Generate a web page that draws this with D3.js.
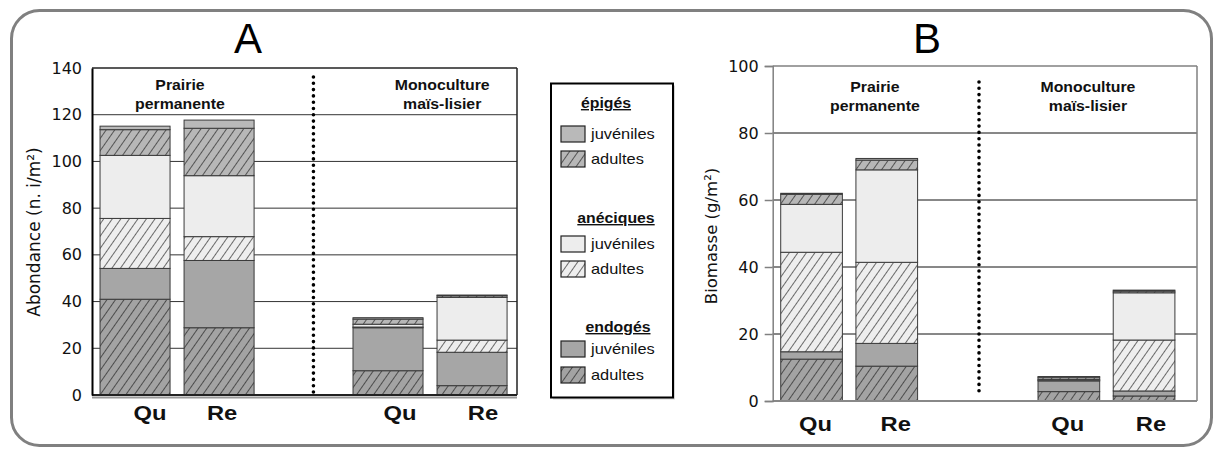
<!DOCTYPE html>
<html>
<head>
<meta charset="utf-8">
<script src="https://cdn.jsdelivr.net/npm/d3@7"></script>
<style>
  body { margin: 0; background: #fff; }
  svg { display: block; }
  .verd { font-family: "DejaVu Sans", sans-serif; }
  .arial { font-family: "Liberation Sans", Arial, sans-serif; }
</style>
</head>
<body>
<svg id="chart" width="1215" height="450"></svg>
<script>
// stack order, bottom to top
var keys = ["endoAd", "endoJuv", "anecAd", "anecJuv", "epiAd", "epiJuv"];
var groupIds = ["PP", "MM"];
var groupLabels = [["Prairie", "permanente"], ["Monoculture", "maïs-lisier"]];
var barGroups = ["PP", "PP", "MM", "MM"];
var barLabels = ["Qu", "Re", "Qu", "Re"];

// A : abondance (n. i/m²), one value per bar
var aEndoAd  = [41.0, 28.8, 10.4, 4.0];
var aEndoJuv = [13.2, 28.8, 18.4, 14.3];
var aAnecAd  = [21.4, 10.2, 0.3, 5.2];
var aAnecJuv = [27.0, 26.1, 1.2, 18.3];
var aEpiAd   = [11.0, 20.3, 2.2, 0.7];
var aEpiJuv  = [1.5, 3.5, 0.6, 0.3];

// B : biomasse (g/m²)
var bEndoAd  = [12.5, 10.4, 2.8, 1.5];
var bEndoJuv = [2.2, 6.8, 3.2, 1.5];
var bAnecAd  = [29.7, 24.2, 0.2, 15.2];
var bAnecJuv = [14.3, 27.6, 0.3, 14.1];
var bEpiAd   = [3.0, 2.9, 0.6, 0.5];
var bEpiJuv  = [0.3, 0.5, 0.2, 0.3];

var aTicks = [0, 20, 40, 60, 80, 100, 120, 140];
var bTicks = [0, 20, 40, 60, 80, 100];

var legendGroups = ["épigés", "anéciques", "endogés"];
var legendItems = ["juvéniles", "adultes"];

var svg = d3.select("#chart");
var STRETCH = 1.13;

function stretch(sel) {
  sel.each(function () {
    var w = this.getComputedTextLength();
    d3.select(this).attr("textLength", w * STRETCH).attr("lengthAdjust", "spacingAndGlyphs");
  });
}

/* hatch patterns */
var defs = svg.append("defs");
function hatch(id, base) {
  var p = defs.append("pattern").attr("id", id)
    .attr("patternUnits", "userSpaceOnUse")
    .attr("width", 7).attr("height", 7)
    .attr("patternTransform", "rotate(35)");
  p.append("rect").attr("width", 7).attr("height", 7).attr("fill", base);
  p.append("line").attr("x1", 0).attr("y1", 0).attr("x2", 0).attr("y2", 7)
    .attr("stroke", "#111").attr("stroke-width", 1.2);
}
hatch("h-endo", "#a3a3a3");
hatch("h-anec", "#eeeeee");
hatch("h-epi", "#b7b7b7");

var fills = {
  endoAd: "url(#h-endo)", endoJuv: "#a6a6a6",
  anecAd: "url(#h-anec)", anecJuv: "#ededed",
  epiAd: "url(#h-epi)", epiJuv: "#b9b9b9"
};

/* outer frame */
svg.append("rect")
  .attr("x", 11.5).attr("y", 10.5).attr("width", 1200).attr("height", 435)
  .attr("rx", 28).attr("fill", "none").attr("stroke", "#808080").attr("stroke-width", 3);

function rows(cols) {
  return barLabels.map(function (lab, i) {
    var r = { group: barGroups[i], label: lab };
    keys.forEach(function (k, j) { r[k] = cols[j][i]; });
    return r;
  });
}

var panels = [
  {
    title: "A", titleX: 248, ytitle: "Abondance (n. i/m²)", ytitleX: 40, ytitleY: 232, ytitleSize: 17,
    left: 92, right: 517, top: 68, bottom: 395, max: 140, ticks: aTicks,
    data: rows([aEndoAd, aEndoJuv, aAnecAd, aAnecJuv, aEpiAd, aEpiJuv]),
    gPadIn: 0.391, gPadOut: 0.0355, gAlign: 0.447, bPad: 0.1667,
    divFrac: 0.6, divTop: 77, divBottom: 395,
    labelDx: [15, 3, 12, 11], labelY: 420,
    groupFrac: [0.207, 0.824], groupY: [90, 109],
    axisColor: "#000", axisWidth: 2, frameColor: "#222", gridColor: "#333", tickLen: 0
  },
  {
    title: "B", titleX: 927, ytitle: "Biomasse (g/m²)", ytitleX: 716.5, ytitleY: 236, ytitleSize: 16.5,
    left: 772.7, right: 1197, top: 66, bottom: 401, max: 100, ticks: bTicks,
    data: rows([bEndoAd, bEndoJuv, bAnecAd, bAnecJuv, bEpiAd, bEpiJuv]),
    gPadIn: 0.468, gPadOut: 0.0585, gAlign: 0.266, bPad: 0.18,
    divFrac: 0.51, divTop: 82, divBottom: 395,
    labelDx: [4, 9, -1, 7], labelY: 431,
    groupFrac: [0.241, 0.743], groupY: [92, 111],
    axisColor: "#808080", axisWidth: 1.5, frameColor: "#808080", gridColor: "#111", tickLen: 8
  }
];

panels.forEach(function (p) {
  var g = svg.append("g");

  var y = d3.scaleLinear().domain([0, p.max]).range([p.bottom, p.top]);
  var x0 = d3.scaleBand().domain(groupIds).range([p.left, p.right])
    .paddingInner(p.gPadIn).paddingOuter(p.gPadOut).align(p.gAlign);
  var x1 = d3.scaleBand().domain(["Qu", "Re"]).range([0, x0.bandwidth()])
    .paddingInner(p.bPad).paddingOuter(0);

  // gridlines
  g.selectAll(".grid").data(p.ticks.filter(function (t) { return t > 0 && t < p.max; }))
    .enter().append("line")
    .attr("x1", p.left).attr("x2", p.right)
    .attr("y1", function (d) { return y(d); }).attr("y2", function (d) { return y(d); })
    .attr("stroke", p.gridColor).attr("stroke-width", 1);

  // frame top + right
  g.append("line").attr("x1", p.left).attr("x2", p.right)
    .attr("y1", y(p.max)).attr("y2", y(p.max))
    .attr("stroke", p.frameColor).attr("stroke-width", 1.5);
  g.append("line").attr("x1", p.right).attr("x2", p.right)
    .attr("y1", y(p.max)).attr("y2", y(0))
    .attr("stroke", p.frameColor).attr("stroke-width", 1.5);

  // stacked bars
  var series = d3.stack().keys(keys)(p.data);
  g.selectAll(".layer").data(series).enter().append("g")
    .attr("fill", function (s) { return fills[s.key]; })
    .selectAll("rect").data(function (s) { return s; })
    .enter().append("rect")
    .attr("x", function (d) { return x0(d.data.group) + x1(d.data.label); })
    .attr("width", x1.bandwidth())
    .attr("y", function (d) { return y(d[1]); })
    .attr("height", function (d) { return y(d[0]) - y(d[1]); })
    .attr("stroke", "#3a3a3a").attr("stroke-width", 1);

  // baseline
  if (p.title === "A") {
    g.append("line").attr("x1", p.left).attr("x2", p.right)
      .attr("y1", y(0) + 2.5).attr("y2", y(0) + 2.5)
      .attr("stroke", "#9a9a9a").attr("stroke-width", 2);
    g.append("line").attr("x1", p.left).attr("x2", p.right)
      .attr("y1", y(0)).attr("y2", y(0))
      .attr("stroke", "#222").attr("stroke-width", 2);
  } else {
    g.append("line").attr("x1", p.left).attr("x2", p.right)
      .attr("y1", y(0)).attr("y2", y(0))
      .attr("stroke", "#888").attr("stroke-width", 2);
  }

  // y axis
  var axis = d3.axisLeft(y).tickValues(p.ticks).tickSize(p.tickLen).tickPadding(p.tickLen ? 6 : 10);
  var ax = g.append("g").attr("transform", "translate(" + p.left + ",0)").call(axis)
    .attr("font-family", null).attr("font-size", null);
  ax.select(".domain").attr("stroke", p.axisColor).attr("stroke-width", p.axisWidth);
  ax.selectAll(".tick line").attr("stroke", p.axisColor).attr("stroke-width", 1.5);
  ax.selectAll(".tick text").attr("class", "verd").style("font-size", "16px")
    .attr("fill", "#111");

  // divider
  var gEnd = x0(groupIds[0]) + x0.bandwidth(), gStart = x0(groupIds[1]);
  var dx = gEnd + p.divFrac * (gStart - gEnd);
  g.append("line").attr("x1", dx).attr("x2", dx)
    .attr("y1", p.divTop).attr("y2", p.divBottom)
    .attr("stroke", "#000").attr("stroke-width", 3.6)
    .attr("stroke-linecap", "round").attr("stroke-dasharray", "0 6.3");

  // category labels
  g.selectAll(".cat").data(p.data).enter().append("text")
    .attr("class", "arial")
    .attr("x", function (d, i) { return x0(d.group) + x1(d.label) + x1.bandwidth() / 2 + p.labelDx[i]; })
    .attr("y", p.labelY)
    .attr("text-anchor", "middle")
    .style("font-weight", "bold").style("font-size", "21px")
    .attr("fill", "#111")
    .text(function (d) { return d.label; })
    .call(stretch);

  // group labels
  groupLabels.forEach(function (lines, gi) {
    var cx = p.left + p.groupFrac[gi] * (p.right - p.left);
    lines.forEach(function (t, li) {
      g.append("text").attr("class", "arial").attr("x", cx).attr("y", p.groupY[li])
        .attr("text-anchor", "middle")
        .style("font-weight", "bold").style("font-size", "14px")
        .attr("fill", "#111").text(t).call(stretch);
    });
  });

  // panel title
  g.append("text").attr("class", "arial").attr("x", p.titleX).attr("y", 53)
    .attr("text-anchor", "middle").style("font-size", "42px")
    .attr("fill", "#000").text(p.title);

  // y title
  g.append("text").attr("class", "verd")
    .attr("transform", "translate(" + p.ytitleX + "," + p.ytitleY + ") rotate(-90)")
    .attr("text-anchor", "middle").style("font-size", p.ytitleSize + "px")
    .attr("fill", "#111").text(p.ytitle);
});

/* legend */
var lg = svg.append("g");
lg.append("rect").attr("x", 553).attr("y", 85.5).attr("width", 122).attr("height", 314)
  .attr("fill", "#d6d6d6");
lg.append("rect").attr("x", 551).attr("y", 83.5).attr("width", 122).attr("height", 314)
  .attr("fill", "#fff").attr("stroke", "#000").attr("stroke-width", 2);

var legendHead = [
  { y: 108, x: 606, swatch: [126, 151], fills: [fills.epiJuv, fills.epiAd] },
  { y: 223, x: 616, swatch: [236, 261], fills: [fills.anecJuv, fills.anecAd] },
  { y: 332, x: 618, swatch: [341, 367], fills: [fills.endoJuv, fills.endoAd] }
];
legendGroups.forEach(function (name, gi) {
  var h = legendHead[gi];
  lg.append("text").attr("class", "arial").attr("x", h.x).attr("y", h.y).attr("text-anchor", "middle")
    .style("font-weight", "bold").style("font-size", "14px")
    .style("text-decoration", "underline").attr("fill", "#111").text(name).call(stretch);
  legendItems.forEach(function (item, ii) {
    var sy = h.swatch[ii];
    lg.append("rect").attr("x", 561).attr("y", sy).attr("width", 24).attr("height", 16)
      .attr("fill", h.fills[ii]).attr("stroke", "#222").attr("stroke-width", 1.2);
    lg.append("text").attr("class", "arial").attr("x", 591).attr("y", sy + 8).attr("dy", "0.36em")
      .style("font-size", "14.5px").attr("fill", "#111")
      .text(item).call(stretch);
  });
});
</script>
</body>
</html>
